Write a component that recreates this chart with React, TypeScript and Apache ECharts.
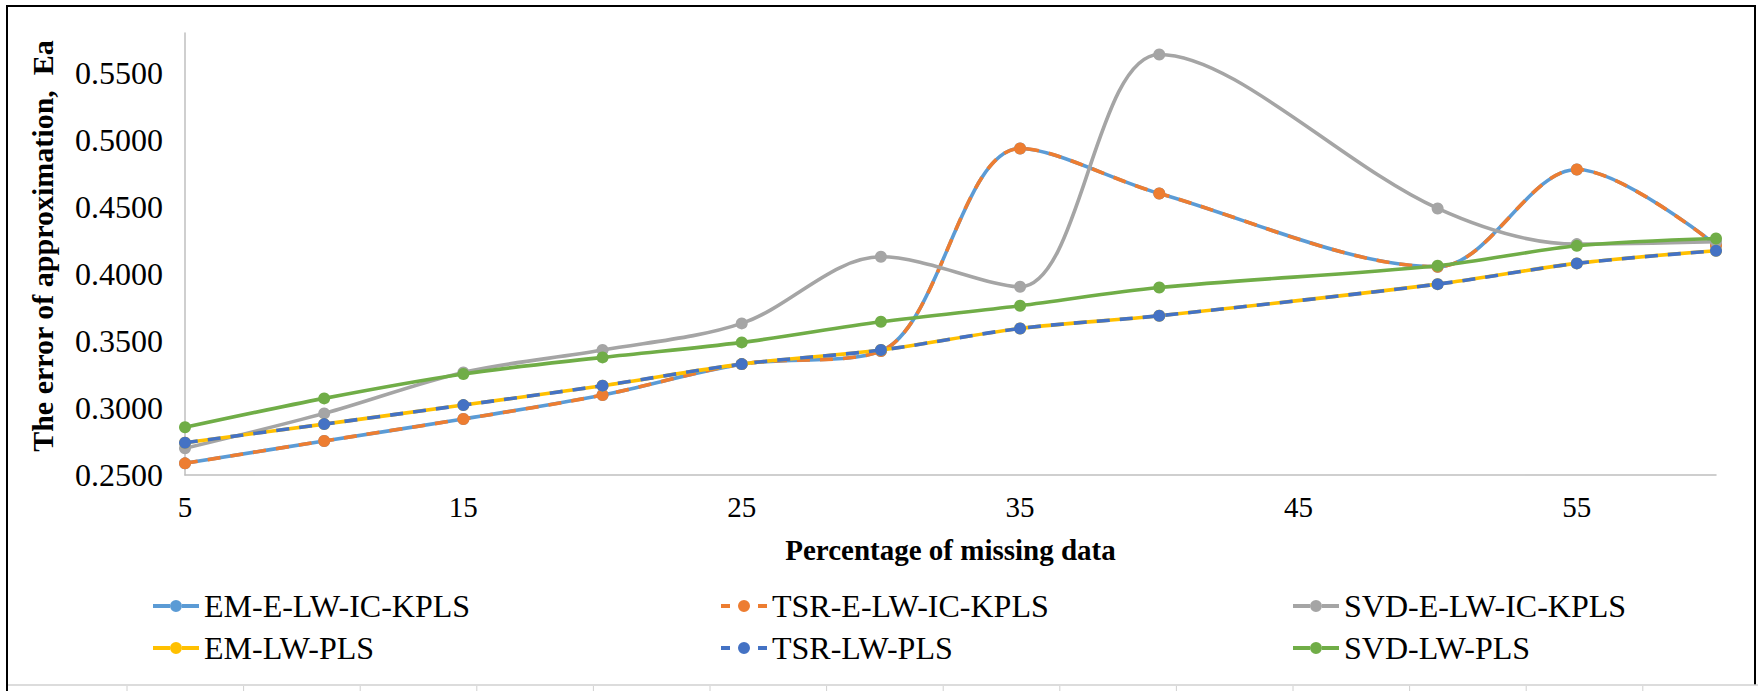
import React, { useEffect, useRef } from "react";
import * as echarts from "echarts";

const xValues = [5, 10, 15, 20, 25, 30, 35, 40, 50, 55, 60];
const emELW = [0.2587, 0.2754, 0.2918, 0.3097, 0.3328, 0.3425, 0.4938, 0.4602, 0.4055, 0.4781, 0.4216];
const tsrELW = [0.2587, 0.2754, 0.2918, 0.3097, 0.3328, 0.3425, 0.4938, 0.4602, 0.4055, 0.4781, 0.4216];
const svdELW = [0.2699, 0.296, 0.3266, 0.3433, 0.3632, 0.4129, 0.3905, 0.564, 0.449, 0.4224, 0.4241];
const emLW = [0.2741, 0.288, 0.3022, 0.3167, 0.3328, 0.3433, 0.3594, 0.3689, 0.3925, 0.408, 0.4174];
const tsrLW = [0.2741, 0.288, 0.3022, 0.3167, 0.3328, 0.3433, 0.3594, 0.3689, 0.3925, 0.408, 0.4174];
const svdLW = [0.2856, 0.3072, 0.3254, 0.3378, 0.349, 0.3644, 0.3764, 0.39, 0.4062, 0.4211, 0.4266];

const seriesNames = [
  "EM-E-LW-IC-KPLS",
  "TSR-E-LW-IC-KPLS",
  "SVD-E-LW-IC-KPLS",
  "EM-LW-PLS",
  "TSR-LW-PLS",
  "SVD-LW-PLS",
];
const seriesValues = [emELW, tsrELW, svdELW, emLW, tsrLW, svdLW];
const seriesColors = ["#5B9BD5", "#ED7D31", "#A5A5A5", "#FFC000", "#4472C4", "#70AD47"];
const seriesDashed = [false, true, false, false, true, false];

const FONT = "'Liberation Serif', 'Times New Roman', serif";

const CIRCLE = "M17 6 A6 6 0 1 1 29 6 A6 6 0 1 1 17 6 Z";
const ICON_SOLID = "path://M0 4 H17 V8 H0 Z M29 4 H46 V8 H29 Z " + CIRCLE;
const ICON_DASHED = "path://M0 4 H9 V8 H0 Z M37 4 H46 V8 H37 Z " + CIRCLE;

export default function App() {
  const ref = useRef<HTMLDivElement>(null);

  useEffect(() => {
    if (!ref.current) return;
    const chart = echarts.init(ref.current, null, { renderer: "svg" });

    const series = seriesNames.map((name, i) => ({
      name,
      type: "line",
      data: xValues.map((x, j) => [x, seriesValues[i][j]]),
      smooth: 0.33,
      symbol: "circle",
      symbolSize: 12,
      itemStyle: { color: seriesColors[i] },
      lineStyle: {
        color: seriesColors[i],
        width: 3.6,
        type: seriesDashed[i] ? [13, 10] : "solid",
        cap: "butt",
      },
      z: 2 + i,
    }));

    const legendItem = (i: number) => ({
      name: seriesNames[i],
      icon: seriesDashed[i] ? ICON_DASHED : ICON_SOLID,
      itemStyle: { color: seriesColors[i] },
    });

    const legendBase = {
      orient: "vertical",
      top: 585,
      itemWidth: 46,
      itemHeight: 12,
      itemGap: 10,
      textStyle: { fontFamily: FONT, fontSize: 32, color: "#000" },
    };

    const gridLines: any[] = [];
    for (let k = 0; k < 15; k++) {
      const x = 127 + 116.6 * k;
      if (x < 1758) {
        gridLines.push({
          type: "line",
          shape: { x1: x, y1: 686, x2: x, y2: 691 },
          style: { stroke: "#D0D0D0", lineWidth: 1 },
        });
      }
    }

    chart.setOption({
      animation: false,
      backgroundColor: "#fff",
      grid: { left: 185, right: 42, top: 33, bottom: 216, containLabel: false },
      xAxis: {
        type: "value",
        min: 5,
        max: 60,
        interval: 5,
        name: "Percentage of missing data",
        nameLocation: "middle",
        nameGap: 60,
        nameTextStyle: { fontFamily: FONT, fontSize: 29, fontWeight: "bold", color: "#000" },
        axisLine: { show: true, lineStyle: { color: "#BFBFBF", width: 1.5 } },
        axisTick: { show: false },
        splitLine: { show: false },
        axisLabel: {
          fontFamily: FONT,
          fontSize: 29,
          color: "#000",
          margin: 17,
          formatter: (v: number) => ((v - 5) % 10 === 0 && v < 60 ? String(v) : ""),
        },
      },
      yAxis: {
        type: "value",
        min: 0.25,
        max: 0.58,
        interval: 0.05,
        axisLine: { show: true, lineStyle: { color: "#BFBFBF", width: 1.5 } },
        axisTick: { show: false },
        splitLine: { show: false },
        axisLabel: {
          fontFamily: FONT,
          fontSize: 32,
          color: "#000",
          margin: 22,
          showMaxLabel: false,
          formatter: (v: number) => (v > 0.56 ? "" : v.toFixed(4)),
        },
      },
      legend: [
        { ...legendBase, left: 148, data: [legendItem(0), legendItem(3)] },
        { ...legendBase, left: 716, data: [legendItem(1), legendItem(4)] },
        { ...legendBase, left: 1288, data: [legendItem(2), legendItem(5)] },
      ],
      graphic: [
        {
          type: "text",
          x: 42,
          y: 246,
          rotation: Math.PI / 2,
          style: {
            text: "The error of approximation,  Ea",
            font: "bold 30px " + FONT,
            fill: "#000",
            align: "center",
            verticalAlign: "middle",
          },
        },
        { type: "line", shape: { x1: 6, y1: 6, x2: 1756, y2: 6 }, style: { stroke: "#000", lineWidth: 2 } },
        { type: "line", shape: { x1: 7, y1: 6, x2: 7, y2: 691 }, style: { stroke: "#000", lineWidth: 2 } },
        { type: "line", shape: { x1: 1755, y1: 6, x2: 1755, y2: 685 }, style: { stroke: "#000", lineWidth: 2 } },
        { type: "line", shape: { x1: 8, y1: 685, x2: 1758, y2: 685 }, style: { stroke: "#D0D0D0", lineWidth: 1.5 } },
        ...gridLines,
      ],
      series,
    });

    return () => chart.dispose();
  }, []);

  return (
    <div
      ref={ref}
      style={{ position: "fixed", left: 0, top: 0, width: 1758, height: 691, background: "#fff" }}
    />
  );
}
